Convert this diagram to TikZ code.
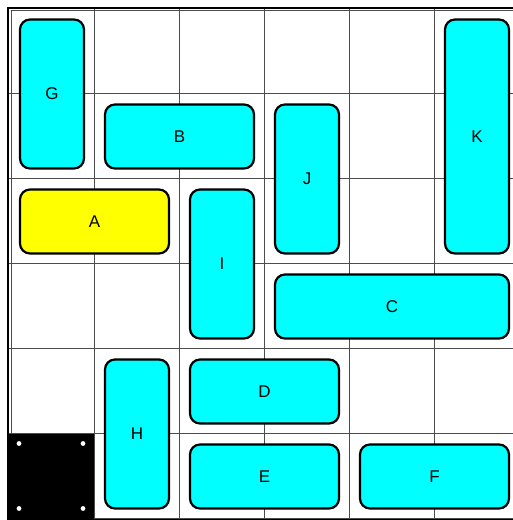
\documentclass[tikz,border=0pt]{standalone}
\usepackage{fontspec}
\setmainfont{Liberation Sans}
\definecolor{carcyan}{RGB}{0,255,255}
\definecolor{caryellow}{RGB}{255,255,0}
\begin{document}
\begin{tikzpicture}[x=1pt,y=-1pt,
  car/.style={draw=black,line width=2.2pt,rounded corners=10pt,fill=carcyan,font=\fontsize{17}{20}\selectfont},
  redcar/.style={car,fill=caryellow},
  gridline/.style={draw=black!70,line width=1pt}]
\useasboundingbox (0,0) rectangle (512,520);
\def\ox{9}\def\oy{8.5}\def\cs{85}
% grid
\foreach \i in {1,...,5} {
  \draw[gridline] (\ox+\i*\cs,\oy) -- (\ox+\i*\cs,\oy+6*\cs);
  \draw[gridline] (\ox,\oy+\i*\cs) -- (\ox+6*\cs,\oy+\i*\cs);
}
\draw[gridline] (11,10.5) rectangle (\ox+6*\cs,\oy+6*\cs);
\draw[black,line width=2pt] (8,7.5) rectangle (\ox+6*\cs+1,\oy+6*\cs+1);
% exit cell
\fill[black] (\ox,\oy+5*\cs) rectangle (\ox+\cs,\oy+6*\cs);
\foreach \dx/\dy in {10/10,74/10,10/75,74/75}
  \fill[white] (\ox+\dx,\oy+5*\cs+\dy) circle (2.4);
% cars: \mycar{style}{name}{col}{row}{w}{h}
\newcommand\mycar[6]{%
  \node[#1,minimum width=#5*\cs-21pt,minimum height=#6*\cs-21pt,inner sep=0pt,outer sep=0pt]
    (#2) at (\ox+#3*\cs+#5*\cs/2+0.5,\oy+#4*\cs+#6*\cs/2+0.5) {#2};}
\mycar{car}{G}{0}{0}{1}{2}
\mycar{car}{B}{1}{1}{2}{1}
\mycar{car}{J}{3}{1}{1}{2}
\mycar{car}{K}{5}{0}{1}{3}
\mycar{redcar}{A}{0}{2}{2}{1}
\mycar{car}{I}{2}{2}{1}{2}
\mycar{car}{C}{3}{3}{3}{1}
\mycar{car}{D}{2}{4}{2}{1}
\mycar{car}{H}{1}{4}{1}{2}
\mycar{car}{E}{2}{5}{2}{1}
\mycar{car}{F}{4}{5}{2}{1}
\end{tikzpicture}
\end{document}
